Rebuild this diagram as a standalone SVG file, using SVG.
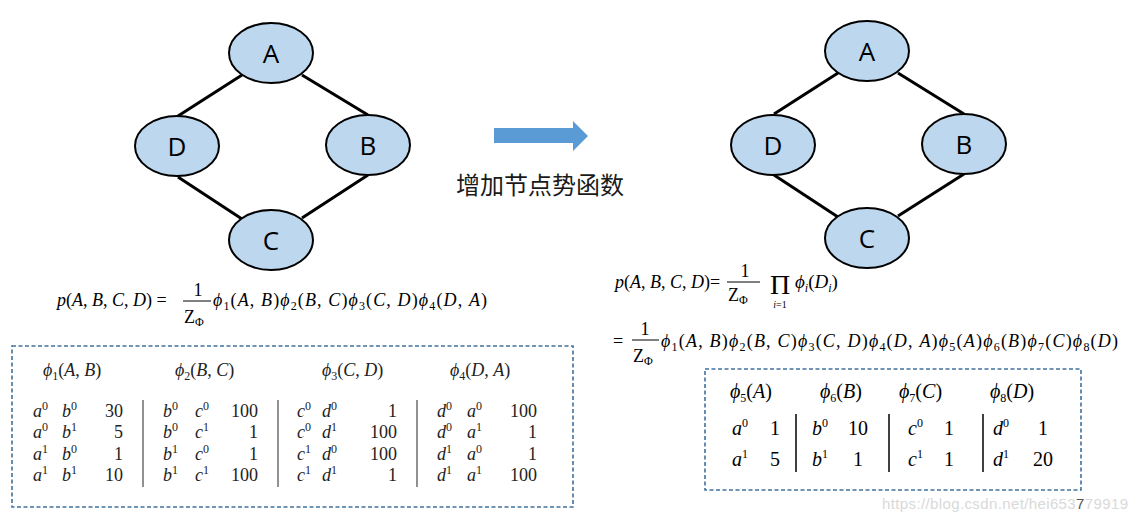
<svg xmlns="http://www.w3.org/2000/svg" width="1139" height="520" viewBox="0 0 1139 520">
<style>
.node ellipse { fill:#BDD7EE; stroke:#000; stroke-width:2; }
.node text { font-family:"Open Sans","DejaVu Sans",sans-serif; font-size:26px; fill:#000; text-anchor:middle; }
.edges line { stroke:#000; stroke-width:3; }
.m { font-family:"Liberation Serif","Times New Roman",serif; font-size:18px; fill:#000; }
.t { font-family:"Liberation Serif","Times New Roman",serif; font-size:18px; fill:#222; }
.r { font-family:"Liberation Serif","Times New Roman",serif; font-size:20px; fill:#000; }
.i { font-style:italic; }
.sb { font-size:12px; }
.sup { font-size:12px; }
.box { fill:none; stroke:#41719C; stroke-width:1.6; stroke-dasharray:4 2.5; }
.vl { stroke:#555; stroke-width:1.3; }
.vk { stroke:#000; stroke-width:1.5; }
.bar { stroke:#000; stroke-width:1; }
.end { text-anchor:end; }
.mid { text-anchor:middle; }
.prod { font-family:"Liberation Serif",serif; font-size:28px; fill:#000; text-anchor:middle; }
.lim { font-family:"Liberation Serif",serif; font-size:10px; fill:#000; text-anchor:middle; }
.big { font-size:19px; }
</style>

<!-- left graph -->
<g class="edges" id="edges-left">
<line x1="242" y1="75" x2="178" y2="116"/>
<line x1="302" y1="75" x2="368" y2="115"/>
<line x1="178" y1="177" x2="242" y2="219"/>
<line x1="368" y1="175" x2="302" y2="218"/>
</g>
<g class="node" id="L-A"><ellipse cx="271" cy="53" rx="42" ry="30"/><text x="271" y="63">A</text></g>
<g class="node" id="L-D"><ellipse cx="177" cy="146" rx="42" ry="30"/><text x="177" y="156">D</text></g>
<g class="node" id="L-B"><ellipse cx="368" cy="145" rx="42" ry="30"/><text x="368" y="155">B</text></g>
<g class="node" id="L-C"><ellipse cx="271" cy="240" rx="42" ry="30"/><text x="271" y="250">C</text></g>

<!-- right graph -->
<g class="edges" id="edges-right">
<line x1="838" y1="73" x2="774" y2="114"/>
<line x1="898" y1="73" x2="964" y2="114"/>
<line x1="774" y1="175" x2="838" y2="217"/>
<line x1="964" y1="174" x2="898" y2="216"/>
</g>
<g class="node" id="R-A"><ellipse cx="867" cy="51" rx="42" ry="30"/><text x="867" y="61">A</text></g>
<g class="node" id="R-D"><ellipse cx="773" cy="145" rx="42" ry="30"/><text x="773" y="155">D</text></g>
<g class="node" id="R-B"><ellipse cx="964" cy="144" rx="42" ry="30"/><text x="964" y="154">B</text></g>
<g class="node" id="R-C"><ellipse cx="867" cy="238" rx="42" ry="30"/><text x="867" y="248">C</text></g>

<!-- transform arrow -->
<g id="arrow">
<polygon points="494,128 573,128 573,121 588,136 573,151 573,143 494,143" fill="#5B9BD5"/>
<text x="540" y="194" font-family="'Noto Sans CJK SC',sans-serif" font-size="24" fill="#1a1a1a" text-anchor="middle">增加节点势函数</text>
</g>

<!-- left formula -->
<g id="formula-left">
<text class="m" x="57" y="306"><tspan class="i">p</tspan>(<tspan class="i">A</tspan>, <tspan class="i">B</tspan>, <tspan class="i">C</tspan>, <tspan class="i">D</tspan>) =</text>
<text class="m mid" x="198" y="296">1</text>
<line class="bar" x1="183" y1="301" x2="211" y2="301"/>
<text class="m" x="184" y="323">Z<tspan class="sb" dy="3">Φ</tspan></text>
<text class="m" x="213" y="306" textLength="274" lengthAdjust="spacing"><tspan class="i">ϕ</tspan><tspan class="sb" dy="4">1</tspan><tspan dy="-4">(</tspan><tspan class="i">A</tspan>, <tspan class="i">B</tspan>)<tspan class="i">ϕ</tspan><tspan class="sb" dy="4">2</tspan><tspan dy="-4">(</tspan><tspan class="i">B</tspan>, <tspan class="i">C</tspan>)<tspan class="i">ϕ</tspan><tspan class="sb" dy="4">3</tspan><tspan dy="-4">(</tspan><tspan class="i">C</tspan>, <tspan class="i">D</tspan>)<tspan class="i">ϕ</tspan><tspan class="sb" dy="4">4</tspan><tspan dy="-4">(</tspan><tspan class="i">D</tspan>, <tspan class="i">A</tspan>)</text>
</g>

<!-- left tables -->
<g id="tables-left">
<rect class="box" x="12" y="346" width="561" height="161"/>
<text class="t" x="43" y="376"><tspan class="i">ϕ</tspan><tspan class="sb" dy="4">1</tspan><tspan dy="-4">(</tspan><tspan class="i">A</tspan>, <tspan class="i">B</tspan>)</text>
<text class="t" x="175" y="376"><tspan class="i">ϕ</tspan><tspan class="sb" dy="4">2</tspan><tspan dy="-4">(</tspan><tspan class="i">B</tspan>, <tspan class="i">C</tspan>)</text>
<text class="t" x="322" y="376"><tspan class="i">ϕ</tspan><tspan class="sb" dy="4">3</tspan><tspan dy="-4">(</tspan><tspan class="i">C</tspan>, <tspan class="i">D</tspan>)</text>
<text class="t" x="450" y="376"><tspan class="i">ϕ</tspan><tspan class="sb" dy="4">4</tspan><tspan dy="-4">(</tspan><tspan class="i">D</tspan>, <tspan class="i">A</tspan>)</text>

<line class="vl" x1="143" y1="400" x2="143" y2="487"/>
<line class="vl" x1="278" y1="400" x2="278" y2="487"/>
<line class="vl" x1="417" y1="400" x2="417" y2="487"/>

<!-- table 1 -->
<text class="t" x="33" y="417"><tspan class="i">a</tspan><tspan class="sup" dy="-7">0</tspan></text>
<text class="t" x="62" y="417"><tspan class="i">b</tspan><tspan class="sup" dy="-7">0</tspan></text>
<text class="t end" x="123" y="417">30</text>
<text class="t" x="33" y="438"><tspan class="i">a</tspan><tspan class="sup" dy="-7">0</tspan></text>
<text class="t" x="62" y="438"><tspan class="i">b</tspan><tspan class="sup" dy="-7">1</tspan></text>
<text class="t end" x="123" y="438">5</text>
<text class="t" x="33" y="460"><tspan class="i">a</tspan><tspan class="sup" dy="-7">1</tspan></text>
<text class="t" x="62" y="460"><tspan class="i">b</tspan><tspan class="sup" dy="-7">0</tspan></text>
<text class="t end" x="123" y="460">1</text>
<text class="t" x="33" y="481"><tspan class="i">a</tspan><tspan class="sup" dy="-7">1</tspan></text>
<text class="t" x="62" y="481"><tspan class="i">b</tspan><tspan class="sup" dy="-7">1</tspan></text>
<text class="t end" x="123" y="481">10</text>

<!-- table 2 -->
<text class="t" x="163" y="417"><tspan class="i">b</tspan><tspan class="sup" dy="-7">0</tspan></text>
<text class="t" x="195" y="417"><tspan class="i">c</tspan><tspan class="sup" dy="-7">0</tspan></text>
<text class="t end" x="258" y="417">100</text>
<text class="t" x="163" y="438"><tspan class="i">b</tspan><tspan class="sup" dy="-7">0</tspan></text>
<text class="t" x="195" y="438"><tspan class="i">c</tspan><tspan class="sup" dy="-7">1</tspan></text>
<text class="t end" x="258" y="438">1</text>
<text class="t" x="163" y="460"><tspan class="i">b</tspan><tspan class="sup" dy="-7">1</tspan></text>
<text class="t" x="195" y="460"><tspan class="i">c</tspan><tspan class="sup" dy="-7">0</tspan></text>
<text class="t end" x="258" y="460">1</text>
<text class="t" x="163" y="481"><tspan class="i">b</tspan><tspan class="sup" dy="-7">1</tspan></text>
<text class="t" x="195" y="481"><tspan class="i">c</tspan><tspan class="sup" dy="-7">1</tspan></text>
<text class="t end" x="258" y="481">100</text>

<!-- table 3 -->
<text class="t" x="297" y="417"><tspan class="i">c</tspan><tspan class="sup" dy="-7">0</tspan></text>
<text class="t" x="322" y="417"><tspan class="i">d</tspan><tspan class="sup" dy="-7">0</tspan></text>
<text class="t end" x="397" y="417">1</text>
<text class="t" x="297" y="438"><tspan class="i">c</tspan><tspan class="sup" dy="-7">0</tspan></text>
<text class="t" x="322" y="438"><tspan class="i">d</tspan><tspan class="sup" dy="-7">1</tspan></text>
<text class="t end" x="397" y="438">100</text>
<text class="t" x="297" y="460"><tspan class="i">c</tspan><tspan class="sup" dy="-7">1</tspan></text>
<text class="t" x="322" y="460"><tspan class="i">d</tspan><tspan class="sup" dy="-7">0</tspan></text>
<text class="t end" x="397" y="460">100</text>
<text class="t" x="297" y="481"><tspan class="i">c</tspan><tspan class="sup" dy="-7">1</tspan></text>
<text class="t" x="322" y="481"><tspan class="i">d</tspan><tspan class="sup" dy="-7">1</tspan></text>
<text class="t end" x="397" y="481">1</text>

<!-- table 4 -->
<text class="t" x="437" y="417"><tspan class="i">d</tspan><tspan class="sup" dy="-7">0</tspan></text>
<text class="t" x="467" y="417"><tspan class="i">a</tspan><tspan class="sup" dy="-7">0</tspan></text>
<text class="t end" x="537" y="417">100</text>
<text class="t" x="437" y="438"><tspan class="i">d</tspan><tspan class="sup" dy="-7">0</tspan></text>
<text class="t" x="467" y="438"><tspan class="i">a</tspan><tspan class="sup" dy="-7">1</tspan></text>
<text class="t end" x="537" y="438">1</text>
<text class="t" x="437" y="460"><tspan class="i">d</tspan><tspan class="sup" dy="-7">1</tspan></text>
<text class="t" x="467" y="460"><tspan class="i">a</tspan><tspan class="sup" dy="-7">0</tspan></text>
<text class="t end" x="537" y="460">1</text>
<text class="t" x="437" y="481"><tspan class="i">d</tspan><tspan class="sup" dy="-7">1</tspan></text>
<text class="t" x="467" y="481"><tspan class="i">a</tspan><tspan class="sup" dy="-7">1</tspan></text>
<text class="t end" x="537" y="481">100</text>
</g>

<!-- right formula -->
<g id="formula-right">
<text class="m" x="615" y="288"><tspan class="i">p</tspan>(<tspan class="i">A</tspan>, <tspan class="i">B</tspan>, <tspan class="i">C</tspan>, <tspan class="i">D</tspan>)=</text>
<text class="m mid" x="745" y="277">1</text>
<line class="bar" x1="727" y1="282" x2="760" y2="282"/>
<text class="m" x="728" y="301">Z<tspan class="sb" dy="3">Φ</tspan></text>
<text class="prod" x="780" y="294">Π</text>
<text class="lim" x="780" y="308"><tspan class="i">i</tspan>=1</text>
<text class="m big" x="795" y="288"><tspan class="i">ϕ</tspan><tspan class="sb i" dy="4">i</tspan><tspan dy="-4">(</tspan><tspan class="i">D</tspan><tspan class="sb i" dy="4">i</tspan><tspan dy="-4">)</tspan></text>

<text class="m" x="613" y="347">=</text>
<text class="m mid" x="645" y="335">1</text>
<line class="bar" x1="632" y1="340" x2="659" y2="340"/>
<text class="m" x="633" y="362">Z<tspan class="sb" dy="3">Φ</tspan></text>
<text class="m" x="661" y="347" textLength="457" lengthAdjust="spacing"><tspan class="i">ϕ</tspan><tspan class="sb" dy="4">1</tspan><tspan dy="-4">(</tspan><tspan class="i">A</tspan>, <tspan class="i">B</tspan>)<tspan class="i">ϕ</tspan><tspan class="sb" dy="4">2</tspan><tspan dy="-4">(</tspan><tspan class="i">B</tspan>, <tspan class="i">C</tspan>)<tspan class="i">ϕ</tspan><tspan class="sb" dy="4">3</tspan><tspan dy="-4">(</tspan><tspan class="i">C</tspan>, <tspan class="i">D</tspan>)<tspan class="i">ϕ</tspan><tspan class="sb" dy="4">4</tspan><tspan dy="-4">(</tspan><tspan class="i">D</tspan>, <tspan class="i">A</tspan>)<tspan class="i">ϕ</tspan><tspan class="sb" dy="4">5</tspan><tspan dy="-4">(</tspan><tspan class="i">A</tspan>)<tspan class="i">ϕ</tspan><tspan class="sb" dy="4">6</tspan><tspan dy="-4">(</tspan><tspan class="i">B</tspan>)<tspan class="i">ϕ</tspan><tspan class="sb" dy="4">7</tspan><tspan dy="-4">(</tspan><tspan class="i">C</tspan>)<tspan class="i">ϕ</tspan><tspan class="sb" dy="4">8</tspan><tspan dy="-4">(</tspan><tspan class="i">D</tspan>)</text>
</g>

<!-- right table -->
<g id="table-right">
<rect class="box" x="705" y="369" width="376" height="121"/>
<text class="r" x="730" y="398"><tspan class="i">ϕ</tspan><tspan class="sb" dy="4">5</tspan><tspan dy="-4">(</tspan><tspan class="i">A</tspan>)</text>
<text class="r" x="820" y="398"><tspan class="i">ϕ</tspan><tspan class="sb" dy="4">6</tspan><tspan dy="-4">(</tspan><tspan class="i">B</tspan>)</text>
<text class="r" x="899" y="398"><tspan class="i">ϕ</tspan><tspan class="sb" dy="4">7</tspan><tspan dy="-4">(</tspan><tspan class="i">C</tspan>)</text>
<text class="r" x="990" y="398"><tspan class="i">ϕ</tspan><tspan class="sb" dy="4">8</tspan><tspan dy="-4">(</tspan><tspan class="i">D</tspan>)</text>

<line class="vk" x1="796" y1="414" x2="796" y2="472"/>
<line class="vk" x1="889" y1="414" x2="889" y2="472"/>
<line class="vk" x1="983" y1="414" x2="983" y2="472"/>

<text class="r" x="732" y="435"><tspan class="i">a</tspan><tspan class="sup" dy="-8">0</tspan></text>
<text class="r mid" x="775" y="435">1</text>
<text class="r" x="732" y="466"><tspan class="i">a</tspan><tspan class="sup" dy="-8">1</tspan></text>
<text class="r mid" x="775" y="466">5</text>

<text class="r" x="812" y="435"><tspan class="i">b</tspan><tspan class="sup" dy="-8">0</tspan></text>
<text class="r mid" x="858" y="435">10</text>
<text class="r" x="812" y="466"><tspan class="i">b</tspan><tspan class="sup" dy="-8">1</tspan></text>
<text class="r mid" x="858" y="466">1</text>

<text class="r" x="908" y="435"><tspan class="i">c</tspan><tspan class="sup" dy="-8">0</tspan></text>
<text class="r mid" x="949" y="435">1</text>
<text class="r" x="908" y="466"><tspan class="i">c</tspan><tspan class="sup" dy="-8">1</tspan></text>
<text class="r mid" x="949" y="466">1</text>

<text class="r" x="993" y="435"><tspan class="i">d</tspan><tspan class="sup" dy="-8">0</tspan></text>
<text class="r mid" x="1043" y="435">1</text>
<text class="r" x="993" y="466"><tspan class="i">d</tspan><tspan class="sup" dy="-8">1</tspan></text>
<text class="r mid" x="1043" y="466">20</text>
</g>

<!-- watermark -->
<text x="882" y="509" font-family="'Liberation Sans',Arial,sans-serif" font-size="15" fill="#d9d9d9" textLength="246" lengthAdjust="spacing">https://blog.csdn.net/hei653<tspan fill="#555">7</tspan>79919</text>
</svg>
